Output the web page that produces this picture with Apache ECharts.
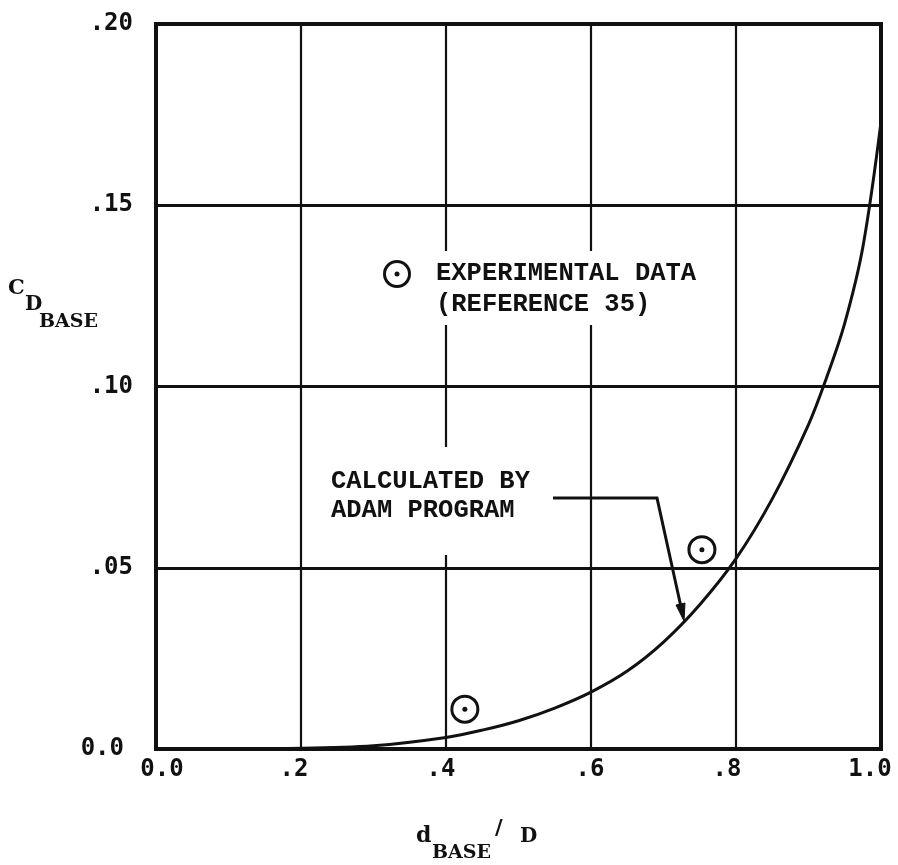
<!DOCTYPE html>
<html>
<head>
<meta charset="utf-8">
<script src="https://cdn.jsdelivr.net/npm/echarts@6/dist/echarts.min.js"></script>
<style>
  html, body { margin: 0; padding: 0; background: #fff; }
  #chart { width: 898px; height: 865px; }
</style>
</head>
<body>
<div id="chart"></div>
<script>
// Base drag coefficient vs. base diameter ratio
const xTickLabels = ['0.0', '.2', '.4', '.6', '.8', '1.0'];
const xTickShift = [6, -7, -5, -1, -9, -11];   // hand-placed label nudges (px)
const yTickLabels = ['0.0', '.05', '.10', '.15', '.20'];

// ADAM program prediction
const calcX = [0.0, 0.2, 0.3, 0.4, 0.45, 0.5, 0.55, 0.6, 0.65, 0.7, 0.75, 0.8, 0.85, 0.9, 0.925, 0.95, 0.975, 1.0];
const calcY = [0.0, 0.0002, 0.0009, 0.0032, 0.0052, 0.0078, 0.0113, 0.0157, 0.0215, 0.0295, 0.0398, 0.0525, 0.069, 0.0895, 0.1025, 0.1175, 0.1385, 0.173];

// Experimental data (Reference 35)
const expX = [0.426, 0.753];
const expY = [0.011, 0.055];

const TICK_FONT = '"DejaVu Sans Mono", monospace';
const NOTE_FONT = '"Liberation Mono", monospace';
const TITLE_FONT = '"DejaVu Serif", serif';

const chart = echarts.init(document.getElementById('chart'), null, { renderer: 'canvas' });

const calcData = calcX.map((x, i) => [x, calcY[i]]);
const expData = expX.map((x, i) => [x, expY[i]]);

function textEl(text, x, y, font) {
  return {
    type: 'text', z: 10,
    style: {
      text: text, x: x, y: y, font: font, fill: '#111',
      align: 'left', verticalAlign: 'middle',
      textAlign: 'left', textVerticalAlign: 'middle'
    }
  };
}
const noteText = (t, x, y) => textEl(t, x, y, 'bold 25.5px ' + NOTE_FONT);
const titleText = (t, x, y, size) => textEl(t, x, y, 'bold ' + size + 'px ' + TITLE_FONT);

// per-label rich styles carrying the horizontal nudge
const xRich = {};
xTickShift.forEach((s, i) => {
  xRich['p' + i] = {
    fontFamily: TICK_FONT, fontSize: 24, fontWeight: 'bold', color: '#111',
    padding: s > 0 ? [0, 0, 0, 2 * s] : [0, -2 * s, 0, 0]
  };
});

const option = {
  backgroundColor: '#fff',
  animation: false,
  grid: {
    left: 156, top: 24, width: 725, height: 725,
    outerBoundsMode: 'none', containLabel: false,
    show: true, borderColor: '#111', borderWidth: 4, backgroundColor: 'transparent'
  },
  xAxis: {
    type: 'value', min: 0, max: 1, interval: 0.2,
    axisLine: { show: false }, axisTick: { show: false },
    splitLine: { show: true, lineStyle: { color: '#111', width: 2.2 } },
    axisLabel: {
      margin: 9,
      fontFamily: TICK_FONT, fontSize: 24, fontWeight: 'bold', color: '#111',
      formatter: (v) => {
        const i = Math.round(v / 0.2);
        return '{p' + i + '|' + xTickLabels[i] + '}';
      },
      rich: xRich
    }
  },
  yAxis: {
    type: 'value', min: 0, max: 0.2, interval: 0.05,
    axisLine: { show: false }, axisTick: { show: false },
    splitLine: { show: true, lineStyle: { color: '#111', width: 3 } },
    axisLabel: {
      margin: 23,
      fontFamily: TICK_FONT, fontSize: 24, fontWeight: 'bold', color: '#111',
      formatter: (v) => {
        const t = yTickLabels[Math.round(v / 0.05)];
        return v === 0 ? '{z|' + t + '}' : t;
      },
      rich: {
        z: { fontFamily: TICK_FONT, fontSize: 24, fontWeight: 'bold', color: '#111', padding: [0, 9, 0, 0] }
      }
    }
  },
  series: [
    {
      name: 'CALCULATED BY ADAM PROGRAM',
      type: 'line', data: calcData, smooth: 0.35,
      showSymbol: false, z: 5,
      lineStyle: { color: '#111', width: 3 }
    },
    {
      name: 'EXPERIMENTAL DATA',
      type: 'scatter', data: expData, symbol: 'circle', symbolSize: 26, z: 6,
      itemStyle: { color: '#fff', borderColor: '#111', borderWidth: 3, opacity: 1 }
    },
    {
      name: 'EXPERIMENTAL DATA center',
      type: 'scatter', data: expData, symbol: 'circle', symbolSize: 5, z: 7,
      itemStyle: { color: '#111', opacity: 1 }
    }
  ],
  graphic: [
    // breaks in the grid behind the notes
    { type: 'rect', z: 1, shape: { x: 436, y: 251, width: 266, height: 74 }, style: { fill: '#fff' } },
    { type: 'rect', z: 1, shape: { x: 436, y: 447, width: 20, height: 108 }, style: { fill: '#fff' } },

    // legend symbol and text
    { type: 'circle', z: 10, shape: { cx: 397, cy: 274, r: 12.5 }, style: { fill: '#fff', stroke: '#111', lineWidth: 3 } },
    { type: 'circle', z: 10, shape: { cx: 397, cy: 274, r: 2.5 }, style: { fill: '#111' } },
    noteText('EXPERIMENTAL DATA', 436, 274),
    noteText('(REFERENCE 35)', 436, 305),

    // curve callout
    noteText('CALCULATED BY', 331, 482),
    noteText('ADAM PROGRAM', 331, 511),
    { type: 'polyline', z: 10, shape: { points: [[553, 498], [657, 498], [681, 607]] }, style: { stroke: '#111', lineWidth: 3, fill: null } },
    { type: 'polygon', z: 10, shape: { points: [[684, 621], [685, 603], [676, 605]] }, style: { fill: '#111', stroke: '#111', lineWidth: 1 } },

    // y-axis title C_D_BASE
    titleText('C', 8, 289, 21),
    titleText('D', 25, 305, 20),
    titleText('BASE', 39, 322, 19),

    // x-axis title d_BASE / D
    titleText('d', 416, 836, 22),
    titleText('BASE', 432, 853, 19),
    titleText('/', 495, 829, 21),
    titleText('D', 520, 837, 20)
  ]
};

chart.setOption(option);
</script>
</body>
</html>
